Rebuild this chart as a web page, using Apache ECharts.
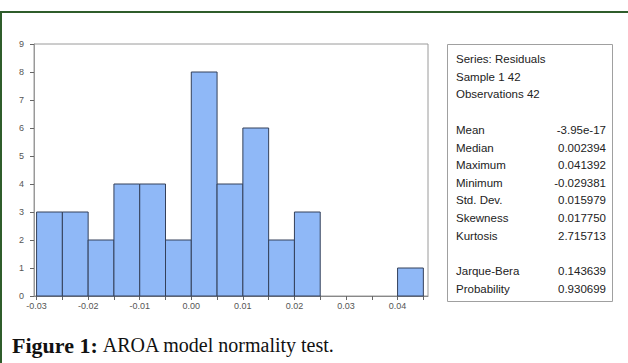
<!DOCTYPE html>
<html>
<head>
<meta charset="utf-8">
<script src="https://cdn.jsdelivr.net/npm/echarts@6/dist/echarts.min.js"></script>
<style>
  html, body { margin: 0; padding: 0; background: #fff; }
  #chart { width: 628px; height: 363px; }
  #frame {
    position: absolute; left: 0; top: 11px; width: 626px; height: 352px;
    border-top: 2px solid #2f5d2b; border-left: 2px solid #2f5d2b;
    pointer-events: none;
  }
</style>
</head>
<body>
<div id="chart"></div>
<div id="frame"></div>
<script>
// histogram bins of the residuals (left edges, width 0.005) and their counts
const binStarts = [-0.03, -0.025, -0.02, -0.015, -0.01, -0.005, 0, 0.005, 0.01, 0.015, 0.02, 0.025, 0.03, 0.035, 0.04]
const binWidth = 0.005
const counts = [3, 3, 2, 4, 4, 2, 8, 4, 6, 2, 3, 0, 0, 0, 1]

const xTickLabels = [-0.03, -0.02, -0.01, 0, 0.01, 0.02, 0.03, 0.04]
const xMinorTicks = [-0.03, -0.025, -0.02, -0.015, -0.01, -0.005, 0, 0.005, 0.01, 0.015, 0.02, 0.025, 0.03, 0.035, 0.04, 0.045]

// summary statistics box
const headerLines = ["Series: Residuals", "Sample 1 42", "Observations 42"]
const statNames = ["Mean", "Median", "Maximum", "Minimum", "Std. Dev.", "Skewness", "Kurtosis"]
const statValues = ["-3.95e-17", "0.002394", "0.041392", "-0.029381", "0.015979", "0.017750", "2.715713"]
const testNames = ["Jarque-Bera", "Probability"]
const testValues = ["0.143639", "0.930699"]

const barFill = "#8fb8f7"
const barEdge = "#34405a"
const tickGray = "#555"

const histData = binStarts
  .map((start, i) => [start, start + binWidth, counts[i]])
  .filter((d) => d[2] > 0)

const labelFont = "11.5px 'Liberation Sans', Arial, sans-serif"
const valueFont = "11.5px 'Liberation Sans', Arial, sans-serif"
const boxText = []
const lineH = 17.6
function addLine(label, value, y) {
  boxText.push({ type: "text", x: 456, y,
    style: { text: label, font: labelFont, fill: "#222", verticalAlign: "middle" } })
  if (value !== undefined) {
    boxText.push({ type: "text", x: 606, y,
      style: { text: value, font: valueFont, fill: "#222", align: "right", verticalAlign: "middle" } })
  }
}
headerLines.forEach((t, i) => addLine(t, undefined, 59 + i * lineH))
statNames.forEach((t, i) => addLine(t, statValues[i], 130 + i * lineH))
testNames.forEach((t, i) => addLine(t, testValues[i], 271 + i * lineH))

const chart = echarts.init(document.getElementById("chart"), null, { renderer: "svg" })
chart.setOption({
  animation: false,
  textStyle: { fontFamily: "'Liberation Sans', Arial, sans-serif" },
  title: {
    left: 7,
    top: 329,
    text: "{b|Figure 1:} {r|AROA model normality test.}",
    textStyle: {
      rich: {
        b: { fontFamily: "'Liberation Serif', serif", fontWeight: "bold", fontSize: 22, color: "#111" },
        r: { fontFamily: "'Liberation Serif', serif", fontWeight: "normal", fontSize: 20, color: "#111" },
      },
    },
  },
  grid: { left: 34, top: 44, right: 200, bottom: 67, show: true, borderColor: "#9a9a9a", borderWidth: 1 },
  xAxis: {
    type: "value",
    min: -0.0305,
    max: 0.0459,
    axisLine: { show: true, onZero: false, lineStyle: { color: "#888" } },
    axisTick: { show: true, customValues: xMinorTicks, length: 4, lineStyle: { color: "#666" } },
    axisLabel: {
      customValues: xTickLabels,
      color: tickGray,
      fontSize: 9,
      margin: 5,
      formatter: (v) => v.toFixed(2),
    },
    splitLine: { show: false },
  },
  yAxis: {
    type: "value",
    min: 0,
    max: 9,
    interval: 1,
    axisLine: { show: true, onZero: false, lineStyle: { color: "#999" } },
    axisTick: { show: true, length: 4, lineStyle: { color: "#666" } },
    axisLabel: { color: tickGray, fontSize: 9, margin: 10 },
    splitLine: { show: false },
  },
  series: [
    {
      type: "custom",
      data: histData,
      encode: { x: [0, 1], y: 2 },
      renderItem: (params, api) => {
        const topLeft = api.coord([api.value(0), api.value(2)])
        const bottomRight = api.coord([api.value(1), 0])
        return {
          type: "rect",
          shape: {
            x: topLeft[0],
            y: topLeft[1],
            width: bottomRight[0] - topLeft[0],
            height: bottomRight[1] - topLeft[1],
          },
          style: { fill: barFill, stroke: barEdge, lineWidth: 1 },
        }
      },
    },
  ],
  graphic: [
    {
      type: "rect",
      shape: { x: 447.5, y: 44.5, width: 165, height: 257 },
      style: { fill: "#fff", stroke: "#a0a0a0", lineWidth: 1 },
    },
    ...boxText,
  ],
})
</script>
</body>
</html>
